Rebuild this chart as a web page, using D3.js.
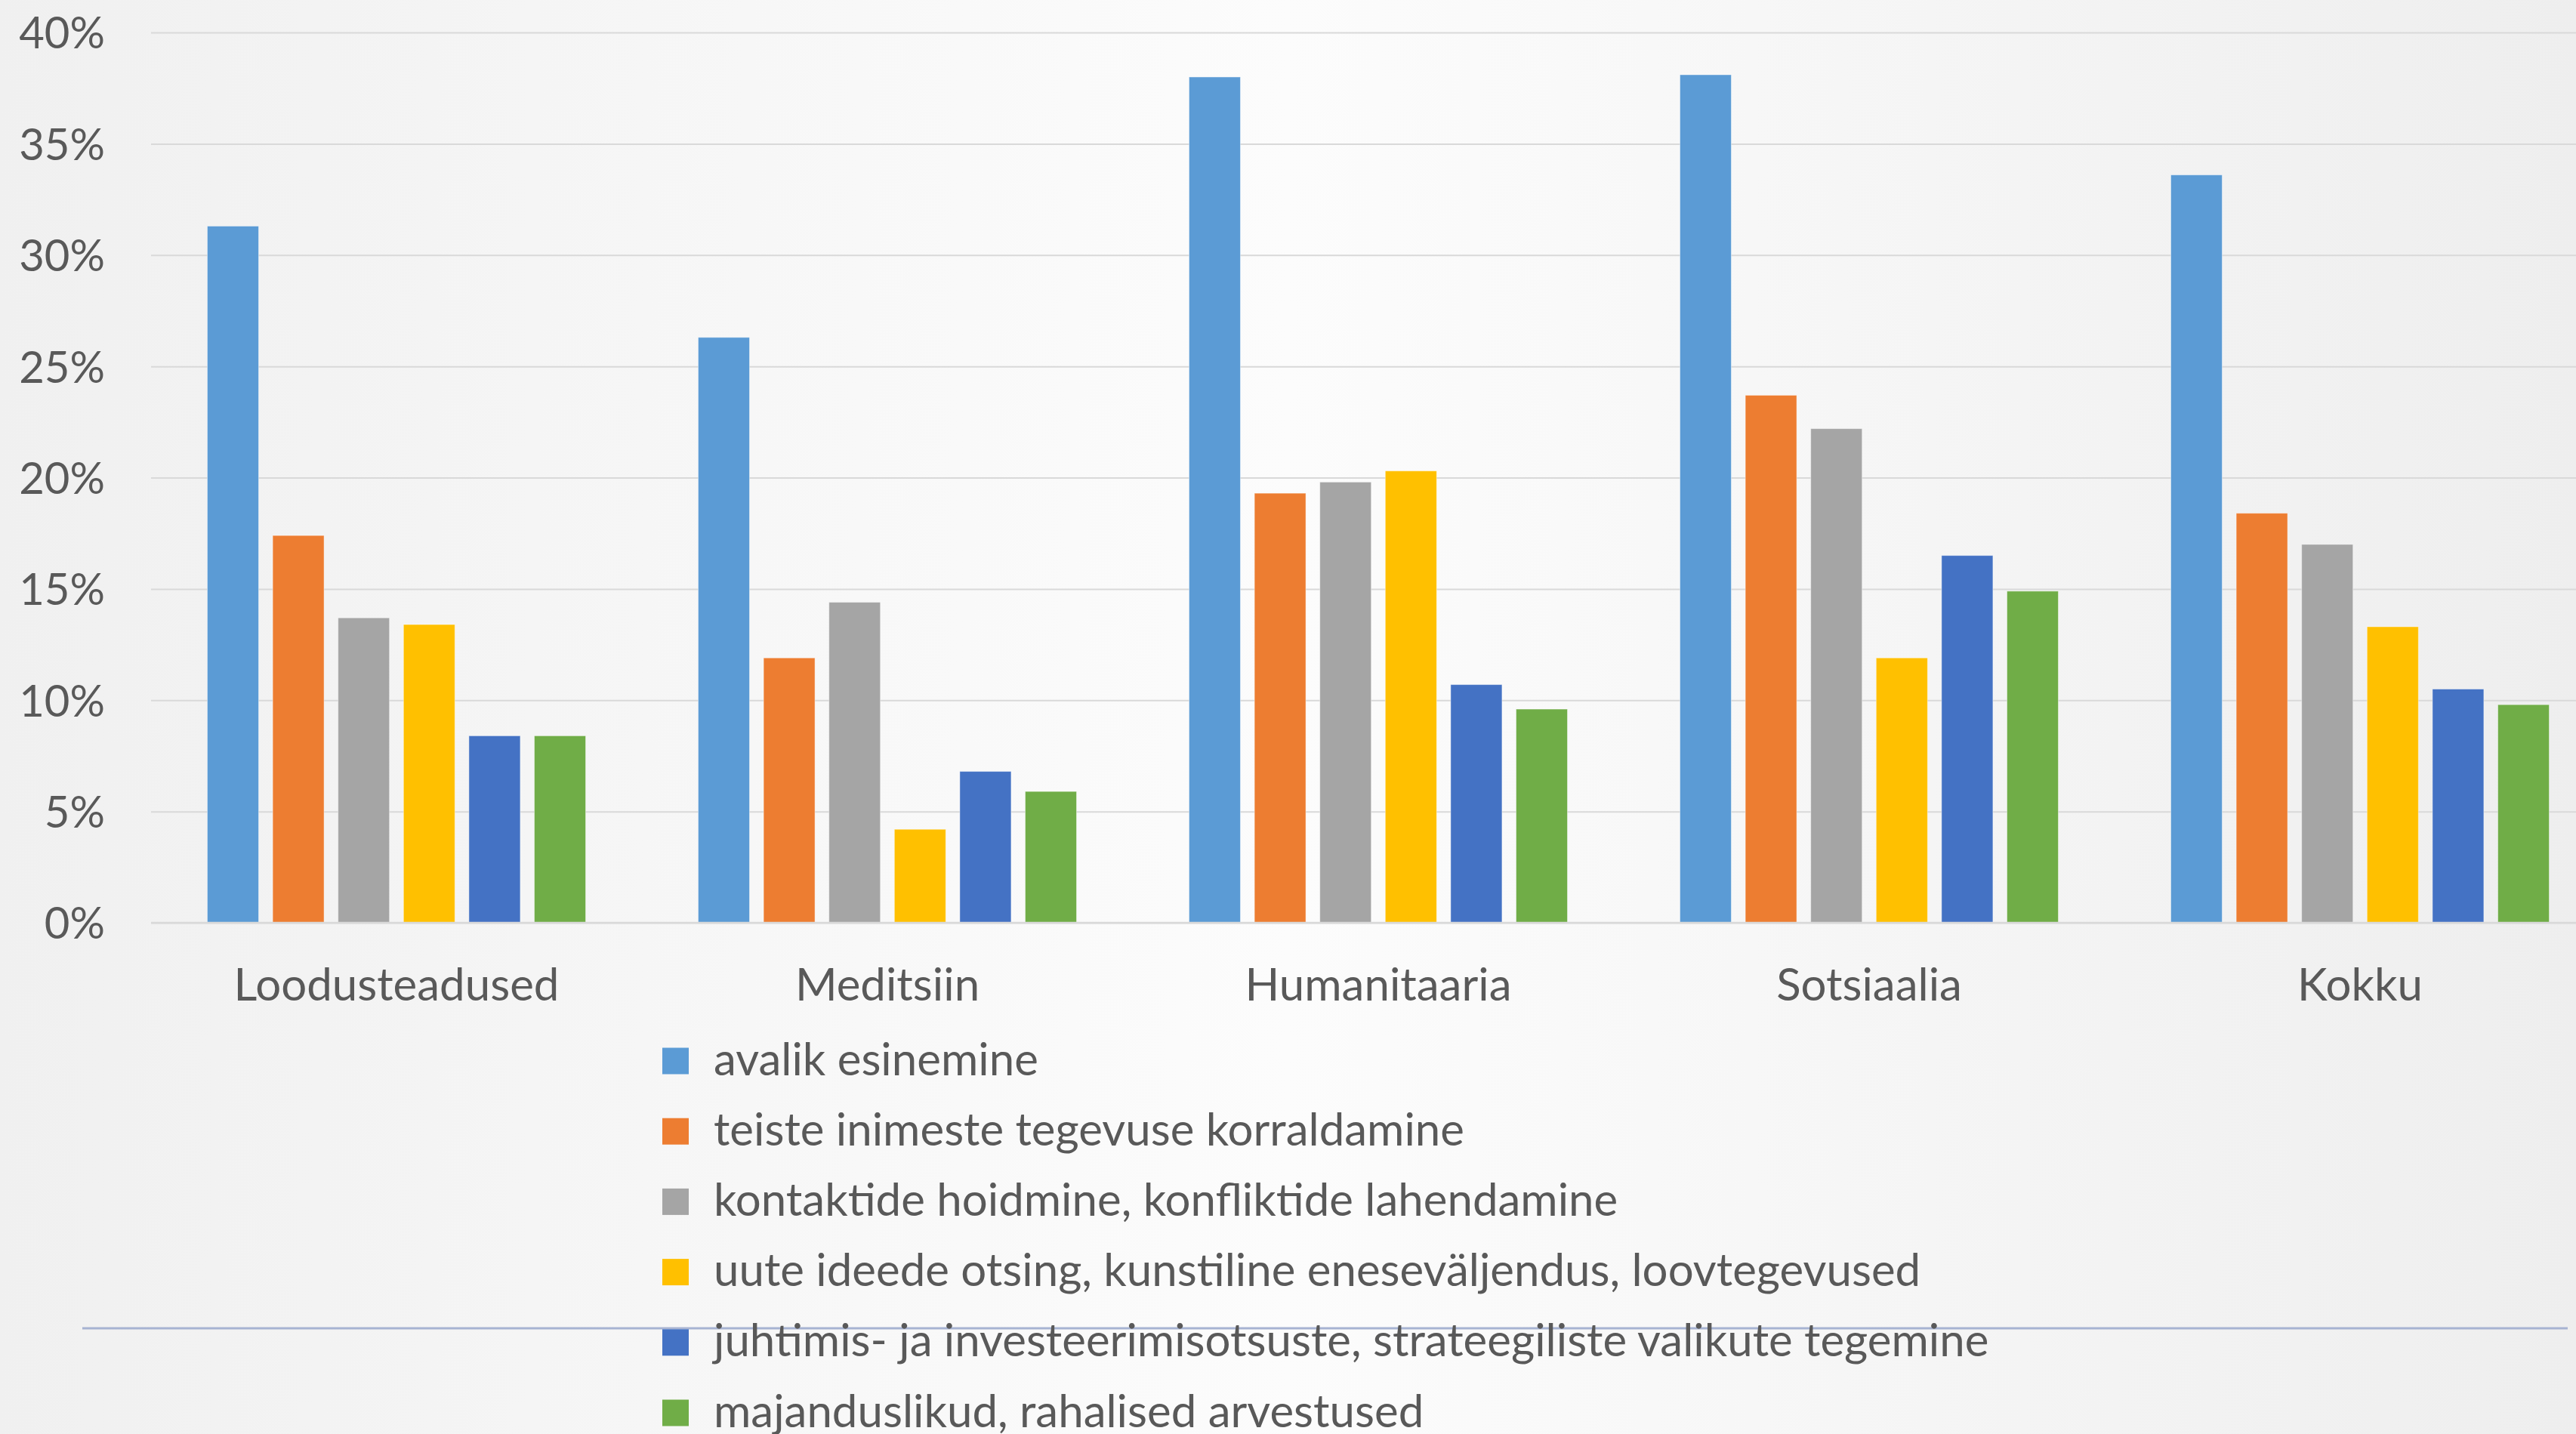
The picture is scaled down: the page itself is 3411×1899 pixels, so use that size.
<!DOCTYPE html>
<html>
<head>
<meta charset="utf-8">
<script src="https://cdn.jsdelivr.net/npm/d3@7"></script>
<style>
  html, body { margin: 0; padding: 0; overflow: hidden; background: #f4f4f4; }
  svg { display: block; }
  text { font-family: Lato, "Open Sans", "Noto Sans", sans-serif; fill: #595959; }
</style>
</head>
<body>
<svg id="chart" width="3411" height="1899"></svg>
<script>
// ---- data ----
const categories = ["Loodusteadused", "Meditsiin", "Humanitaaria", "Sotsiaalia", "Kokku"];
const seriesNames = [
  "avalik esinemine",
  "teiste inimeste tegevuse korraldamine",
  "kontaktide hoidmine, konfliktide lahendamine",
  "uute ideede otsing, kunstiline eneseväljendus, loovtegevused",
  "juhtimis- ja investeerimisotsuste, strateegiliste valikute tegemine",
  "majanduslikud, rahalised arvestused"
];
const avalikEsinemine   = [31.3, 26.3, 38.0, 38.1, 33.6];
const teisteInimeste    = [17.4, 11.9, 19.3, 23.7, 18.4];
const kontaktideHoid    = [13.7, 14.4, 19.8, 22.2, 17.0];
const uuteIdeede        = [13.4,  4.2, 20.3, 11.9, 13.3];
const juhtimisOtsused   = [ 8.4,  6.8, 10.7, 16.5, 10.5];
const majanduslikud     = [ 8.4,  5.9,  9.6, 14.9,  9.8];
const seriesValues = [avalikEsinemine, teisteInimeste, kontaktideHoid, uuteIdeede, juhtimisOtsused, majanduslikud];
const seriesColors = ["#5B9BD5", "#ED7D31", "#A5A5A5", "#FFC000", "#4472C4", "#70AD47"];
const yTicks = [0, 5, 10, 15, 20, 25, 30, 35, 40];

// ---- layout ----
const W = 3411, H = 1899;
const svg = d3.select("#chart");
const FONT = 60;
const YFONT = 58;

// background gradient
const defs = svg.append("defs");
const grad = defs.append("linearGradient").attr("id", "bg").attr("x1", "0").attr("x2", "1").attr("y1", "0").attr("y2", "0");
grad.append("stop").attr("offset", "0").attr("stop-color", "#f0f0f0");
grad.append("stop").attr("offset", "0.5").attr("stop-color", "#fcfcfc");
grad.append("stop").attr("offset", "1").attr("stop-color", "#eeeeee");
svg.append("rect").attr("width", W).attr("height", H).attr("fill", "url(#bg)");

const plotLeft = 200, plotRight = 3450, plotTop = 43, plotBottom = 1222;

const x0 = d3.scaleBand().domain(categories).range([plotLeft, plotRight]).paddingInner(0).paddingOuter(0);
const groupPad = 0.1146;
const x1 = d3.scaleBand().domain(d3.range(seriesNames.length))
  .range([x0.bandwidth() * groupPad, x0.bandwidth() * (1 - groupPad)])
  .paddingInner(0.215).paddingOuter(0);
const y = d3.scaleLinear().domain([0, 40]).range([plotBottom, plotTop]);

// y axis with gridlines
const yAxis = svg.append("g")
  .attr("transform", `translate(${plotLeft},0)`)
  .call(d3.axisLeft(y).tickValues(yTicks).tickFormat(d => d + "%")
        .tickSize(-(plotRight - plotLeft)).tickPadding(61));
yAxis.select(".domain").remove();
yAxis.selectAll(".tick line").attr("stroke", "#d9d9d9").attr("stroke-width", 2);
yAxis.selectAll(".tick text").attr("font-size", YFONT).attr("fill", "#595959")
  .attr("dy", "0.36em").style("font-family", "Lato, 'Open Sans', sans-serif");

// bars
const groups = svg.append("g").selectAll("g").data(categories).join("g")
  .attr("transform", d => `translate(${x0(d)},0)`);
groups.selectAll("rect")
  .data((c, ci) => seriesValues.map((vals, si) => ({ si, v: vals[ci] })))
  .join("rect")
  .attr("x", d => x1(d.si))
  .attr("width", x1.bandwidth())
  .attr("y", d => y(d.v))
  .attr("height", d => y(0) - y(d.v))
  .attr("fill", d => seriesColors[d.si])
  .attr("stroke", "rgba(255,255,255,0.45)")
  .attr("stroke-width", 1);

// x axis
const xAxis = svg.append("g")
  .attr("transform", `translate(0,${plotBottom})`)
  .call(d3.axisBottom(x0).tickSize(0).tickPadding(60));
xAxis.select(".domain").attr("stroke", "#d9d9d9").attr("stroke-width", 2.5)
  .attr("d", `M${plotLeft},0H${plotRight}`);
xAxis.selectAll(".tick text").attr("font-size", FONT).attr("fill", "#595959")
  .style("font-family", "Lato, 'Open Sans', sans-serif");

// decorative bottom line
svg.append("line").attr("x1", 109).attr("x2", 3400).attr("y1", 1759).attr("y2", 1759)
  .attr("stroke", "#a7b3d2").attr("stroke-width", 3);

// legend
const legendX = 877, legendY0 = 1405, legendStep = 93.2, box = 35;
const legend = svg.append("g");
const items = legend.selectAll("g").data(seriesNames).join("g")
  .attr("transform", (d, i) => `translate(${legendX},${legendY0 + i * legendStep})`);
items.append("rect").attr("x", 0).attr("y", -box / 2).attr("width", box).attr("height", box)
  .attr("fill", (d, i) => seriesColors[i]);
items.append("text").attr("x", 68).attr("y", 18.6).attr("font-size", FONT).text(d => d);
</script>
</body>
</html>
